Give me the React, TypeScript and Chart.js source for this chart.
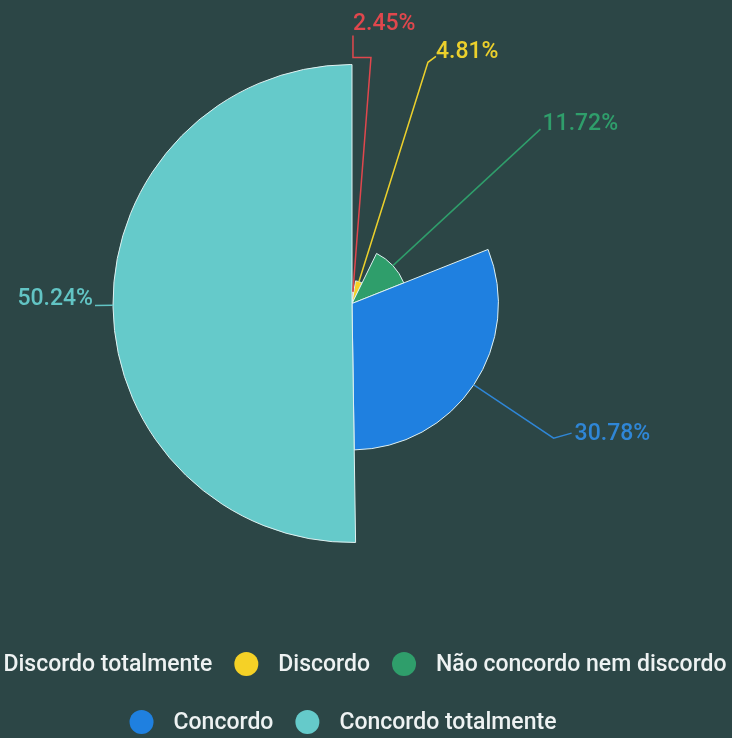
import React, { useEffect, useRef } from "react";
import { Chart, registerables } from "chart.js";

Chart.register(...registerables);

const categories = [
  "Discordo totalmente",
  "Discordo",
  "Não concordo nem discordo",
  "Concordo",
  "Concordo totalmente",
];
const values = [2.45, 4.81, 11.72, 30.78, 50.24];
const valueLabels = ["2.45%", "4.81%", "11.72%", "30.78%", "50.24%"];
const colors = ["#de4b4e", "#f5d126", "#2f9e6b", "#1f80e0", "#65caca"];
const labelColors = ["#e0474d", "#ecd02c", "#2f9e6b", "#2f86d6", "#62c4c4"];
const legendRows = [[0, 1, 2], [3, 4]];

const BG = "#2c4646";

// leader-line layout per slice (first radial length, then extra segments, text placement)
const leaderLayout = [
  { len: 235, segs: [[-18, 0], [0, -22]], align: "left", dx: 0, dy: -6, base: "alphabetic" },
  { len: 230, segs: [[8, -6]], align: "left", dx: 0, dy: 2, base: "alphabetic" },
  { len: 201, segs: [], align: "left", dx: 2, dy: 1, base: "alphabetic" },
  { len: 96, segs: [[18, -5]], align: "left", dx: 3, dy: 1, base: "middle" },
  { len: 18, segs: [], align: "right", dx: -2, dy: 0, base: "alphabetic" },
];

const rosePlugin = {
  id: "rose",
  beforeDatasetsDraw(chart: any) {
    const meta = chart.getDatasetMeta(0);
    const maxR = meta.controller.outerRadius;
    const maxV = Math.max(...values);
    meta.data.forEach((el: any, i: number) => {
      el.outerRadius = (maxR * values[i]) / maxV;
      el.innerRadius = 0;
    });
  },
  afterDraw(chart: any) {
    const ctx = chart.ctx;
    const meta = chart.getDatasetMeta(0);
    ctx.save();
    // labels with leader lines
    meta.data.forEach((el: any, i: number) => {
      const lay = leaderLayout[i];
      const a = (el.startAngle + el.endAngle) / 2;
      const cx = el.x, cy = el.y, r = el.outerRadius;
      let x = cx + r * Math.cos(a);
      let y = cy + r * Math.sin(a);
      ctx.beginPath();
      ctx.moveTo(x, y);
      x += lay.len * Math.cos(a);
      y += lay.len * Math.sin(a);
      ctx.lineTo(x, y);
      lay.segs.forEach((s: number[]) => {
        x += s[0];
        y += s[1];
        ctx.lineTo(x, y);
      });
      ctx.strokeStyle = labelColors[i];
      ctx.lineWidth = 1.5;
      ctx.stroke();
      ctx.font = "500 23px Roboto";
      ctx.fillStyle = labelColors[i];
      ctx.textAlign = lay.align;
      ctx.textBaseline = lay.base;
      ctx.fillText(valueLabels[i], x + lay.dx, y + lay.dy);
    });
    // legend
    const rowY = [664, 722];
    const centerX = 343;
    const iconR = 12;
    const gapIcon = 20;
    const gapItem = 22;
    ctx.font = "500 23px Roboto";
    ctx.textBaseline = "middle";
    ctx.textAlign = "left";
    legendRows.forEach((row, ri) => {
      const widths = row.map((idx) => iconR * 2 + gapIcon + ctx.measureText(categories[idx]).width);
      const total = widths.reduce((s, w) => s + w, 0) + gapItem * (row.length - 1);
      let x = centerX - total / 2;
      row.forEach((idx, k) => {
        ctx.beginPath();
        ctx.arc(x + iconR, rowY[ri], iconR, 0, Math.PI * 2);
        ctx.fillStyle = colors[idx];
        ctx.fill();
        ctx.fillStyle = "#eef2f2";
        ctx.fillText(categories[idx], x + iconR * 2 + gapIcon, rowY[ri] + 1);
        x += widths[k] + gapItem;
      });
    });
    ctx.restore();
  },
};

export default function App() {
  const ref = useRef<HTMLCanvasElement>(null);
  useEffect(() => {
    if (!ref.current) return;
    const chart = new Chart(ref.current, {
      type: "pie",
      data: {
        labels: categories,
        datasets: [
          {
            data: values,
            backgroundColor: colors,
            borderColor: "#dff0f0",
            borderWidth: 1,
          },
        ],
      },
      options: {
        animation: false,
        responsive: false,
        layout: { padding: { left: 112.5, right: 140.5, top: 64, bottom: 195 } },
        plugins: {
          legend: { display: false },
          tooltip: { enabled: false },
        },
      },
      plugins: [rosePlugin],
    });
    return () => chart.destroy();
  }, []);
  return (
    <div style={{ position: "fixed", left: 0, top: 0, width: 732, height: 738, background: BG }}>
      <canvas ref={ref} width={732} height={738} style={{ width: 732, height: 738, display: "block" }} />
    </div>
  );
}
